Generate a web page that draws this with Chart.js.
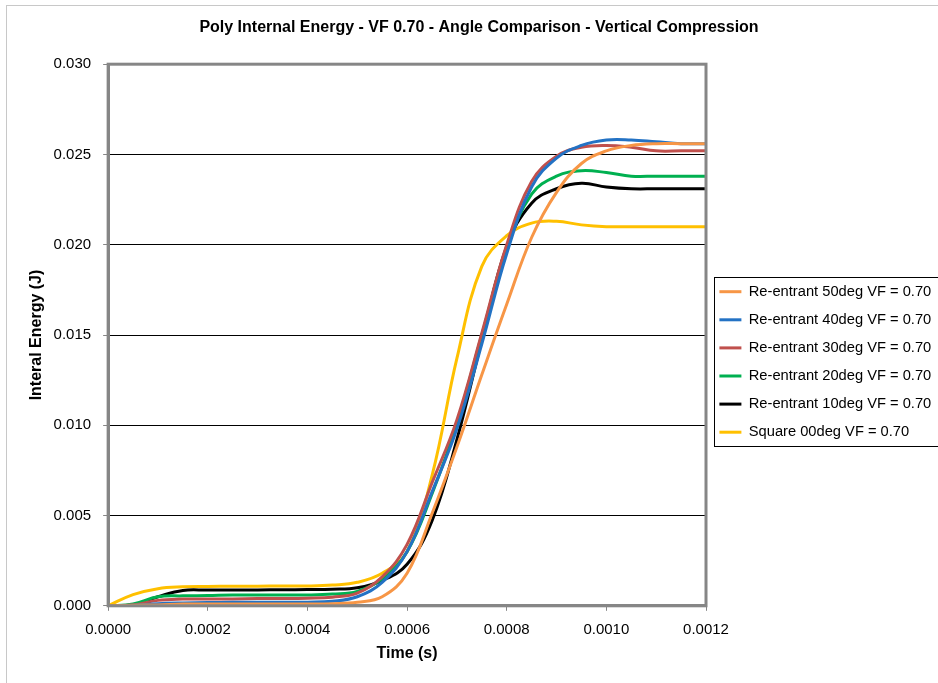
<!DOCTYPE html>
<html>
<head>
<meta charset="utf-8">
<script src="https://cdn.jsdelivr.net/npm/chart.js@4.4.1/dist/chart.umd.min.js"></script>
<style>
  html, body { margin: 0; padding: 0; background: #fff; }
  #wrap { width: 938px; height: 683px; position: relative; }
</style>
</head>
<body>
<div id="wrap"><canvas id="energyChart" width="938" height="683"></canvas></div>
<script>
// time steps (s)
const times = [0, 0.00005, 0.0001, 0.00015, 0.0002, 0.00025, 0.0003, 0.00035, 0.0004, 0.00045,
  0.0005, 0.00055, 0.0006, 0.00065, 0.0007, 0.00075, 0.0008, 0.00085, 0.0009, 0.00095,
  0.001, 0.00105, 0.0011, 0.00115, 0.0012];

// internal energy (J) per series
const reentrant50 = [0, 0.00003, 0.00005, 0.0001, 0.0001, 0.0001, 0.0001, 0.0001, 0.0001, 0.00012,
  0.0002, 0.0005, 0.0018, 0.0051, 0.0088, 0.0128, 0.0167, 0.0204, 0.0229, 0.0245,
  0.0252, 0.0255, 0.0256, 0.0256, 0.0256];
const reentrant40 = [0, 0.00003, 0.00012, 0.00016, 0.00018, 0.00019, 0.0002, 0.0002, 0.0002, 0.00025,
  0.0005, 0.0013, 0.0030, 0.0063, 0.0098, 0.0145, 0.0195, 0.0232, 0.0248, 0.0255,
  0.0258, 0.0258, 0.0257, 0.0256, 0.0256];
const reentrant30 = [0, 0.00005, 0.0003, 0.00037, 0.00038, 0.00038, 0.0004, 0.0004, 0.00042, 0.00048,
  0.0007, 0.0016, 0.0034, 0.0068, 0.0103, 0.0151, 0.0200, 0.0235, 0.0249, 0.0254,
  0.0255, 0.0254, 0.0252, 0.0252, 0.0252];
const reentrant20 = [0, 0.0001, 0.0005, 0.00055, 0.00057, 0.0006, 0.0006, 0.0006, 0.0006, 0.00065,
  0.0008, 0.0015, 0.0030, 0.0062, 0.0101, 0.0150, 0.0198, 0.0228, 0.0238, 0.0241,
  0.0240, 0.0238, 0.0238, 0.0238, 0.0238];
const reentrant10 = [0, 0.00005, 0.0005, 0.00085, 0.00087, 0.00088, 0.00088, 0.00089, 0.0009, 0.00092,
  0.0010, 0.0014, 0.0023, 0.0047, 0.0092, 0.0147, 0.0199, 0.0223, 0.0231, 0.0234,
  0.0232, 0.0231, 0.0231, 0.0231, 0.0231];
const square00 = [0, 0.00062, 0.00095, 0.00105, 0.00107, 0.00108, 0.00108, 0.0011, 0.0011, 0.00115,
  0.0013, 0.0018, 0.0030, 0.0072, 0.0137, 0.0188, 0.0205, 0.0212, 0.0213, 0.0211,
  0.0210, 0.0210, 0.0210, 0.0210, 0.0210];

const seriesLabels = ['Re-entrant 50deg VF = 0.70', 'Re-entrant 40deg VF = 0.70', 'Re-entrant 30deg VF = 0.70',
  'Re-entrant 20deg VF = 0.70', 'Re-entrant 10deg VF = 0.70', 'Square 00deg VF = 0.70'];
const seriesValues = [reentrant50, reentrant40, reentrant30, reentrant20, reentrant10, square00];
const seriesColors = ['#F79646', '#2372C4', '#C0504D', '#00B050', '#000000', '#FFC000'];

const FONT = 'Liberation Sans, Arial, sans-serif';

// frame around plot area, border around legend and around the whole picture
const framePlugin = {
  id: 'frames',
  beforeDraw(chart) {
    const ctx = chart.ctx;
    ctx.save();
    ctx.fillStyle = '#fff';
    ctx.fillRect(0, 0, chart.width, chart.height);
    ctx.strokeStyle = '#c8c8c8';
    ctx.lineWidth = 1;
    ctx.strokeRect(6.5, 5.5, chart.width + 10, chart.height + 10);
    ctx.restore();
  },
  afterDatasetsDraw(chart) {
    const ctx = chart.ctx;
    const a = chart.chartArea;
    ctx.save();
    ctx.strokeStyle = '#868686';
    ctx.lineWidth = 3;
    ctx.strokeRect(a.left, a.top, a.right - a.left, a.bottom - a.top);
    ctx.restore();
  },
  afterDraw(chart) {
    const boxes = chart.legend.legendHitBoxes;
    if (!boxes || !boxes.length) return;
    const left = Math.min(...boxes.map(b => b.left)) - 5;
    const top = boxes[0].top - 7;
    const bottom = boxes[boxes.length - 1].top + 21;
    const ctx = chart.ctx;
    ctx.save();
    ctx.strokeStyle = '#000';
    ctx.lineWidth = 1;
    ctx.strokeRect(Math.round(left) + 0.5, Math.round(top) + 0.5, chart.width, Math.round(bottom - top));
    ctx.restore();
  }
};

const ctx = document.getElementById('energyChart').getContext('2d');
new Chart(ctx, {
  type: 'line',
  data: {
    datasets: seriesLabels.map((label, i) => ({
      label: label,
      data: times.map((t, j) => ({ x: t, y: seriesValues[i][j] })),
      borderColor: seriesColors[i],
      backgroundColor: seriesColors[i],
      borderWidth: 3,
      pointRadius: 0,
      tension: 0.4,
      fill: false
    }))
  },
  options: {
    responsive: false,
    animation: false,
    layout: { padding: { left: 25, right: 5, top: 4, bottom: 16 } },
    plugins: {
      title: {
        display: true,
        text: 'Poly Internal Energy - VF 0.70 - Angle Comparison - Vertical Compression',
        color: '#000',
        font: { family: FONT, size: 16, weight: 'bold' },
        padding: { top: 14, bottom: 27 }
      },
      legend: {
        position: 'right',
        title: { display: true, text: ' ', font: { size: 12 }, padding: 19.25 },
        labels: {
          color: '#000',
          font: { family: FONT, size: 14.7 },
          usePointStyle: true,
          pointStyle: 'line',
          pointStyleWidth: 22,
          padding: 13.4
        }
      },
      tooltip: { enabled: false }
    },
    scales: {
      x: {
        type: 'linear',
        min: 0,
        max: 0.0012,
        ticks: {
          stepSize: 0.0002,
          color: '#000',
          padding: 10,
          font: { family: FONT, size: 15 },
          callback: v => v.toFixed(4)
        },
        grid: { drawOnChartArea: false, tickLength: 5, color: '#868686' },
        border: { color: '#868686', width: 3 },
        title: {
          display: true,
          text: 'Time (s)',
          color: '#000',
          font: { family: FONT, size: 16, weight: 'bold' },
          padding: { top: -5, bottom: 4 }
        }
      },
      y: {
        min: 0,
        max: 0.03,
        ticks: {
          stepSize: 0.005,
          color: '#000',
          font: { family: FONT, size: 15 },
          padding: 12,
          callback: v => v.toFixed(3)
        },
        grid: {
          color: c => (c.tick && (c.tick.value === 0 || Math.abs(c.tick.value - 0.03) < 1e-9)) ? 'rgba(0,0,0,0)' : '#000',
          tickColor: '#868686',
          tickLength: 5,
          lineWidth: 1
        },
        border: { color: '#868686', width: 3 },
        title: {
          display: true,
          text: 'Interal Energy (J)',
          color: '#000',
          font: { family: FONT, size: 16, weight: 'bold' },
          padding: { top: 2.4, bottom: -5 }
        }
      }
    }
  },
  plugins: [framePlugin]
});
</script>
</body>
</html>
